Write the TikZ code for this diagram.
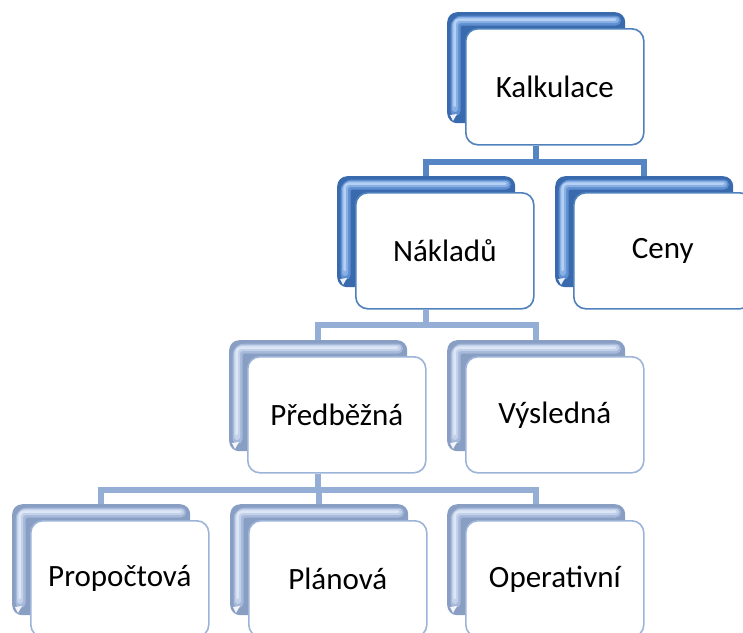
\documentclass[tikz,border=0pt]{standalone}
\usepackage{fontspec}
\setmainfont{Carlito}
\usetikzlibrary{calc}
\pgfdeclarelayer{bg}
\pgfsetlayers{bg,main}
\definecolor{backA}{HTML}{3A6AAE}
\definecolor{hlA}{HTML}{5F8FD0}
\definecolor{hlAA}{HTML}{88B0E4}
\definecolor{hlAAA}{HTML}{B5D0F2}
\definecolor{edgeA}{HTML}{4F81BD}
\definecolor{connA}{HTML}{5585C3}
\definecolor{backB}{HTML}{899EC3}
\definecolor{hlB}{HTML}{A7B9DA}
\definecolor{hlBB}{HTML}{C3D1EA}
\definecolor{hlBBB}{HTML}{DDE6F5}
\definecolor{edgeB}{HTML}{9DB4D9}
\definecolor{connB}{HTML}{95AED5}
\tikzset{
  backbox/.style={rectangle, rounded corners=10pt, minimum width=178pt, minimum height=111pt, inner sep=0pt, anchor=north west, draw=none},
  frontbox/.style={rectangle, rounded corners=12pt, minimum width=178pt, minimum height=116pt, inner sep=0pt, anchor=north west, fill=white, line width=1.6pt, font=\fontsize{31}{37}\selectfont, text=black},
  conn/.style={line width=6pt},
}
% #1 name, #2 bx, #3 by, #4 text, #5 level letter
\newcommand{\tierbox}[5]{%
  \node[backbox, fill=back#5] (#1B) at (#2,#3) {};
  \draw[line width=10pt, hl#5, rounded corners=7pt, line cap=round] (#2+8.5,#3+99) -- (#2+8.5,#3+8.5) -- (#2+169,#3+8.5);
  \draw[line width=6pt, hl#5#5, rounded corners=6pt, line cap=round] (#2+8,#3+97) -- (#2+8,#3+8) -- (#2+169,#3+8);
  \draw[line width=2.5pt, hl#5#5#5, rounded corners=5pt, line cap=round] (#2+7.5,#3+94) -- (#2+7.5,#3+7.5) -- (#2+168,#3+7.5);
  \fill[white, opacity=0.9] (#2+3,#3+103) -- (#2+10,#3+102) -- (#2+6,#3+109) -- cycle;
  \node[frontbox, draw=edge#5] (#1) at (#2+18,#3+16) {#4};
}
\begin{document}
\begin{tikzpicture}[x=1pt,y=-1pt]
\useasboundingbox (0,0) rectangle (743,632);
\begin{scope}
\clip (0,0) rectangle (743,632);
\tierbox{kalk}{447}{12}{Kalkulace}{A}
\tierbox{nakl}{337}{176}{Nákladů}{A}
\tierbox{ceny}{555}{176}{Ceny}{A}
\tierbox{pred}{229}{340}{Předběžná}{B}
\tierbox{vysl}{447}{340}{Výsledná}{B}
\tierbox{prop}{12}{504}{Propočtová}{B}
\tierbox{plan}{230}{504}{Plánová}{B}
\tierbox{oper}{447}{504}{Operativní}{B}
\begin{pgfonlayer}{bg}
\draw[conn, connA] (kalk.south -| kalkB.center) -- ++(0,16) -| (naklB.north);
\draw[conn, connA] (kalk.south -| kalkB.center) -- ++(0,16) -| (cenyB.north);
\draw[conn, connB] (nakl.south -| naklB.center) -- ++(0,15) -| (predB.north);
\draw[conn, connB] (nakl.south -| naklB.center) -- ++(0,15) -| (vyslB.north);
\draw[conn, connB] (pred.south -| predB.center) -- ++(0,16) -| (propB.north);
\draw[conn, connB] (pred.south -| predB.center) -- ++(0,16) -| (planB.north);
\draw[conn, connB] (pred.south -| predB.center) -- ++(0,16) -| (operB.north);
\end{pgfonlayer}
\end{scope}
\end{tikzpicture}
\end{document}
